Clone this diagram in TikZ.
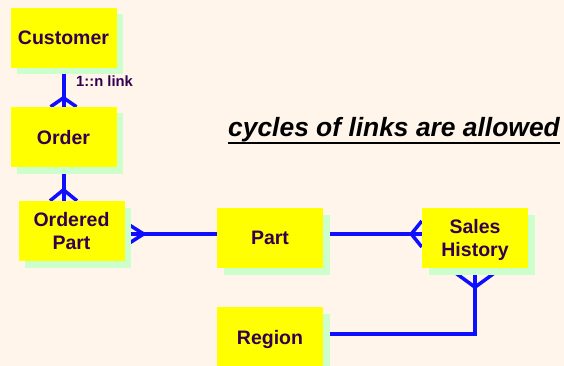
\documentclass[tikz,border=0pt]{standalone}
\usepackage{fontspec}
\setmainfont{Liberation Sans}
\usetikzlibrary{shadows,calc}
\pgfdeclarelayer{paperlayer}
\pgfdeclarelayer{background}
\pgfsetlayers{paperlayer,background,main}

\definecolor{paper}{HTML}{FFF5EA}
\definecolor{entfill}{HTML}{FFFF00}
\definecolor{shadowgreen}{HTML}{CCFFCC}
\definecolor{linkblue}{HTML}{0F0FFF}
\definecolor{inktext}{HTML}{330050}

\tikzset{
  entity/.style={fill=entfill, minimum width=106pt, minimum height=60pt,
    inner sep=0pt, align=center, text=inktext, text depth=0pt,
    font=\fontsize{19.5}{23}\selectfont\bfseries,
    drop shadow={shadow xshift=6.5pt, shadow yshift=-6.5pt,
      fill=shadowgreen, opacity=1}},
  link/.style={draw=linkblue, line width=4pt, line join=miter},
  foot/.style={draw=linkblue, line width=3.5pt},
  linklabel/.style={inner sep=0pt, anchor=base west, text=inktext,
    font=\fontsize{14.8}{17}\selectfont\bfseries},
}

\begin{document}
\begin{tikzpicture}[x=1pt, y=-1pt]
  % page
  \begin{pgfonlayer}{paperlayer}
    \fill[paper] (0,0) rectangle (564,366);
  \end{pgfonlayer}
  \useasboundingbox (0,0) rectangle (564,366);

  % entities
  \node[entity] (cust)   at (63.5,38)  {Customer};
  \node[entity] (order)  at (63.5,137) {Order};
  \node[entity] (opart)  at (71.5,231) {Ordered\\Part};
  \node[entity] (part)   at (270,238)  {Part};
  \node[entity] (sales)  at (475,238)  {Sales\\History};
  \node[entity] (region) at (270,337)  {Region};

  % heights of the horizontal links
  \coordinate (rowlink) at (0,234);
  \coordinate (lowlink) at (0,334);

  % 1::n links with crow's feet on the many side
  \begin{pgfonlayer}{background}
    \draw[link] (cust.south) -- (order.north);
    \draw[foot] ($(order.north)+(-13,0)$) -- ++(13,-9) -- ++(13,9);

    \draw[link] (order.south) -- (order.south |- opart.north);
    \draw[foot] ($(order.south |- opart.north)+(-13.5,0)$) -- ++(13.5,-11) -- ++(13.5,11);

    \draw[link] (opart.east |- rowlink) -- (part.west |- rowlink);
    \draw[foot] ($(opart.east |- rowlink)+(0,-12)$) -- ++(19,12) -- ++(-19,12);

    \draw[link] (part.east |- rowlink) -- (sales.west |- rowlink);
    \draw[foot] ($(sales.west |- rowlink)+(0,-13)$) -- ++(-10.5,13) -- ++(10.5,13);

    \draw[link] (region.east |- lowlink) -- (sales.south |- lowlink) -- (sales.south);
    \draw[foot] ($(sales.south)+(-26,0)$) -- ++(26,19) -- ++(26,-19);
  \end{pgfonlayer}

  % link label
  \node[linklabel] (nlink) at (76,87) {1::n link};

  % underlined remark
  \node[inner sep=0pt, anchor=base west,
        font=\fontsize{26.4}{30}\selectfont\bfseries\itshape] (remark) at (228,137)
        {cycles of links are allowed};
  \draw[line width=2.3pt] ($(remark.base west)+(0,6)$) -- ($(remark.base east)+(0,6)$);
\end{tikzpicture}
\end{document}
